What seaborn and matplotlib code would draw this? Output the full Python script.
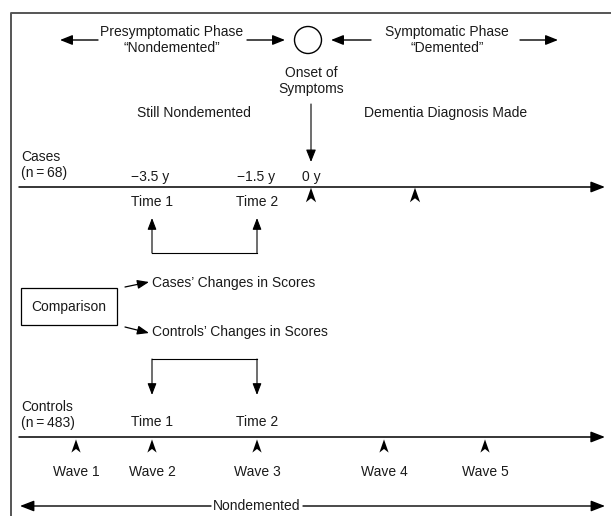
import matplotlib.pyplot as plt
import seaborn as sns
import pandas as pd
from matplotlib.path import Path
from matplotlib.patches import Circle, Rectangle

# --- diagram content (timeline positions in diagram units) ---
phase_titles = ["Presymptomatic Phase\n\u201cNondemented\u201d", "Symptomatic Phase\n\u201cDemented\u201d"]
case_offsets = ["\u22123.5 y", "\u22121.5 y", "0 y"]
case_offset_x = [150, 256, 311]
case_marks_x = [311, 415]
time_labels = ["Time 1", "Time 2"]
time_x = [152, 257]
wave_labels = ["Wave 1", "Wave 2", "Wave 3", "Wave 4", "Wave 5"]
wave_x = [76, 152, 257, 384, 485]
comparison_items = ["Cases\u2019 Changes in Scores", "Controls\u2019 Changes in Scores"]
group_labels = ["Cases\n(n\u2009=\u200968)", "Controls\n(n\u2009=\u2009483)"]

sns.set_theme(style="white")
plt.rcParams["font.family"] = ["Liberation Sans", "DejaVu Sans"]
FS = 10

fig, ax = plt.subplots(figsize=(6.11, 5.16), dpi=100)
ax.set_position([0, 0, 1, 1])
ax.set_xlim(0, 611)
ax.set_ylim(516, 0)
ax.axis("off")


def arrow(x0, y0, x1, y1, lw=1.1, hl=0.85, hw=0.33):
    ax.annotate("", xy=(x1, y1), xytext=(x0, y0),
                arrowprops=dict(arrowstyle=f"-|>,head_length={hl},head_width={hw}",
                                color="black", lw=lw, shrinkA=0, shrinkB=0,
                                mutation_scale=10))


def text(x, y, s, ha="center", va="center"):
    ax.text(x, y, s, ha=ha, va=va, fontsize=FS, color="#1a1a1a", linespacing=1.15)


chevron = Path([(0, 1), (0.7, -1), (0, -0.45), (-0.7, -1), (0, 1)],
               [Path.MOVETO, Path.LINETO, Path.LINETO, Path.LINETO, Path.CLOSEPOLY])

# frame (top and left edges)
ax.plot([11, 11, 611], [516, 13, 13], color="#555555", lw=1.4, solid_capstyle="butt")

# --- top: phases around onset ---
text(172, 40, phase_titles[0])
text(447, 40, phase_titles[1])
arrow(98, 40, 60, 40, lw=1.0, hl=0.75, hw=0.3)
arrow(247, 40, 285, 40, lw=1.0, hl=0.75, hw=0.3)
arrow(371, 40, 331, 40, lw=1.0, hl=0.75, hw=0.3)
arrow(520, 40, 558, 40, lw=1.0, hl=0.75, hw=0.3)
ax.add_patch(Circle((308, 40), 13.5, fill=False, lw=1.0, color="black"))
text(311, 81, "Onset of\nSymptoms")
text(194, 113, "Still Nondemented")
text(446, 113, "Dementia Diagnosis Made")
arrow(311, 104, 311, 162, lw=0.8, hl=0.75, hw=0.3)

# --- cases timeline ---
text(21, 165, group_labels[0], ha="left")
arrow(19, 187, 605, 187)
for lab, x in zip(case_offsets, case_offset_x):
    text(x, 177, lab)
for lab, x in zip(time_labels, time_x):
    text(x, 202, lab)
sns.scatterplot(x=case_marks_x, y=[195] * len(case_marks_x), marker=chevron,
                s=110, color="black", edgecolor="none", ax=ax, legend=False)

# bracket up to cases times
ax.plot(time_x, [253, 253], color="black", lw=0.8, solid_capstyle="projecting")
for x in time_x:
    arrow(x, 253, x, 218, lw=0.8, hl=0.7, hw=0.27)

# --- comparison ---
ax.add_patch(Rectangle((21, 288), 96, 37, fill=False, lw=0.9, edgecolor="black"))
text(69, 306.5, "Comparison")
arrow(125, 287, 149, 282, lw=0.9, hl=0.7, hw=0.27)
arrow(125, 327, 149, 333, lw=0.9, hl=0.7, hw=0.27)
text(152, 283, comparison_items[0], ha="left")
text(152, 332, comparison_items[1], ha="left")

# bracket down to controls times
ax.plot(time_x, [359, 359], color="black", lw=0.8, solid_capstyle="projecting")
for x in time_x:
    arrow(x, 359, x, 395, lw=0.8, hl=0.7, hw=0.27)

# --- controls timeline ---
text(21, 415, group_labels[1], ha="left")
arrow(19, 437, 605, 437)
for lab, x in zip(time_labels, time_x):
    text(x, 422, lab)
waves = pd.DataFrame({"x": wave_x, "label": wave_labels})
sns.scatterplot(data=waves, x="x", y=[446] * len(waves), marker=chevron,
                s=90, color="black", edgecolor="none", ax=ax, legend=False)
for _, r in waves.iterrows():
    text(r["x"], 472, r["label"])

# nondemented span
text(257, 506, "Nondemented")
arrow(211, 506, 20, 506, lw=1.0)
arrow(303, 506, 605, 506, lw=1.0)

ax.set_xlabel("")
ax.set_ylabel("")
fig.savefig("out.png", dpi=100)
